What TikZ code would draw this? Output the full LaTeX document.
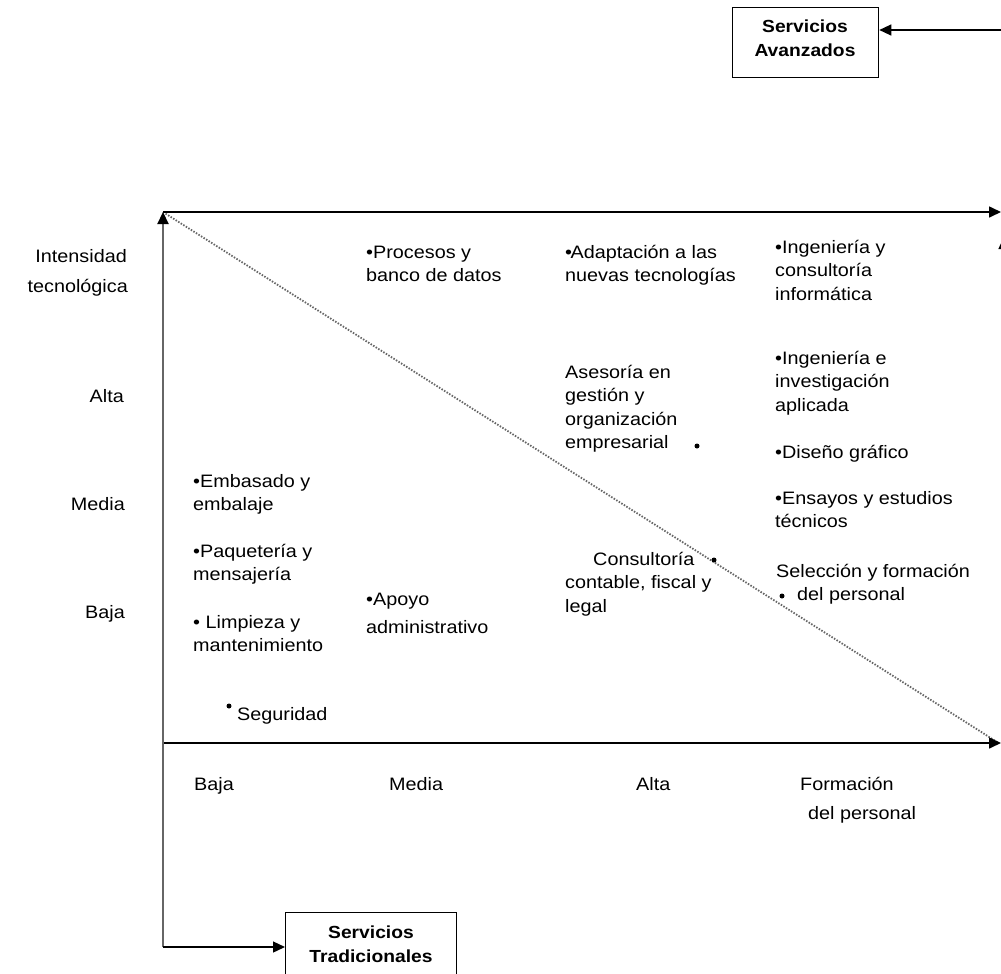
\documentclass[tikz,border=0pt]{standalone}
\usepackage{fontspec}
\setmainfont{Liberation Sans}[FakeStretch=1.1]
\usetikzlibrary{arrows.meta}
\newcommand\mlII[2]{\vtop{\hbox{#1}\hbox{#2}}}
\newcommand\mlIII[3]{\vtop{\hbox{#1}\hbox{#2}\hbox{#3}}}
\newcommand\mlIV[4]{\vtop{\hbox{#1}\hbox{#2}\hbox{#3}\hbox{#4}}}
\begin{document}
\begin{tikzpicture}[x=1pt,y=-1pt,
  txt/.style={anchor=base west, inner sep=0pt, font=\fontsize{18}{23.5}\selectfont},
  rtxt/.style={txt, anchor=base east},
  btxt/.style={inner sep=0pt, align=center, font=\fontsize{17.5}{24}\selectfont\bfseries},
  box/.style={draw, line width=1.3pt, inner sep=0pt},
  tip/.style={-{Triangle[length=12pt,width=11pt,color=black]}},
  axis/.style={tip, line width=1.6pt},
  vaxis/.style={axis, draw=black!60, line width=2.2pt},
  diag/.style={draw=black!60, line width=1.8pt, dash pattern=on 1.5pt off 1.5pt},
  conn/.style={tip, line width=1.3pt},
  dot/.style={circle, fill=black, inner sep=0pt, minimum size=5pt}
]
\useasboundingbox (0,0) rectangle (1001,974);
\fill[white] (0,0) rectangle (1001,974);

% key points
\coordinate (TL) at (163,212);
\coordinate (TR) at (1001,212);
\coordinate (O)  at (163,743);
\coordinate (BR) at (1001,743);
\coordinate (DE) at (997,742);
\coordinate (BL) at (163,947);
\coordinate (avzR) at (1004,30);
\coordinate (rB) at (1004,300);
\coordinate (rT) at (1004,237);

% boxes
\node[box, minimum width=146pt, minimum height=70pt, anchor=north west] (avz) at (732,7) {};
\node[btxt] (avztxt) at (805,38.5) {Servicios\\Avanzados};
\node[box, minimum width=171pt, minimum height=90pt, anchor=north west] (trad) at (285,912) {};
\node[btxt] (tradtxt) at (371,944.5) {Servicios\\Tradicionales};

% diagonal and axes
\draw[diag] (TL) -- (DE);
\draw[axis] (TL) -- (TR);
\draw[axis] (O) -- (BR);
\draw[vaxis] (BL) -- (TL);
\draw[conn] (BL) -- (BL -| trad.west);
\draw[conn] (avzR) -- (avzR -| avz.east);
\draw[axis] (rB) -- (rT);

% vertical axis labels
\node[rtxt] (yl1) at (127,262) {Intensidad};
\node[rtxt] (yl2) at (128,292) {tecnológica};
\node[rtxt] (yalta) at (124,402) {Alta};
\node[rtxt] (ymedia) at (125,510) {Media};
\node[rtxt] (ybaja) at (125,618) {Baja};

% horizontal axis labels
\node[txt] (xbaja) at (194,790) {Baja};
\node[txt] (xmedia) at (389,790) {Media};
\node[txt] (xalta) at (636,790) {Alta};
\node[txt] (xform) at (800,790) {Formación};
\node[txt] (xdel) at (808,819) {del personal};

% items
\node[txt] (proc) at (366,258) {\mlII{•Procesos y}{banco de datos}};
\node[txt] (adap) at (565,258) {\mlII{•\kern-1.5pt Adaptación a las}{nuevas tecnologías}};
\node[txt] (ingc) at (775,253) {\mlIII{•Ingeniería y}{consultoría}{informática}};
\node[txt] (ases) at (565,378) {\mlIV{Asesoría en}{gestión y}{organización}{empresarial}};
\node[dot] (asesdot) at (697,446) {};
\node[txt] (ingi) at (775,364) {\mlIII{•Ingeniería e}{investigación}{aplicada}};
\node[txt] (dise) at (775,458) {•Diseño gráfico};
\node[txt] (ensa) at (775,504) {\mlII{•Ensayos y estudios}{técnicos}};
\node[txt] (cons) at (565,565) {\mlIII{\kern28pt Consultoría}{contable, fiscal y}{legal}};
\node[dot] (consdot) at (714,560) {};
\node[txt] (sele) at (776,577) {\mlII{Selección y formación}{\kern21pt del personal}};
\node[dot] (seledot) at (782,596) {};
\node[txt] (emba) at (193,487) {\mlII{•Embasado y}{embalaje}};
\node[txt] (paq) at (193,557) {\mlII{•Paquetería y}{mensajería}};
\node[txt] (limp) at (193,628) {\mlII{• Limpieza y}{mantenimiento}};
\node[txt] (apoyo) at (366,605) {\vtop{\hbox{•Apoyo}\vskip5pt\hbox{administrativo}}};
\node[dot] (segdot) at (229,706) {};
\node[txt] (seg) at (237,720) {Seguridad};
\end{tikzpicture}
\end{document}
